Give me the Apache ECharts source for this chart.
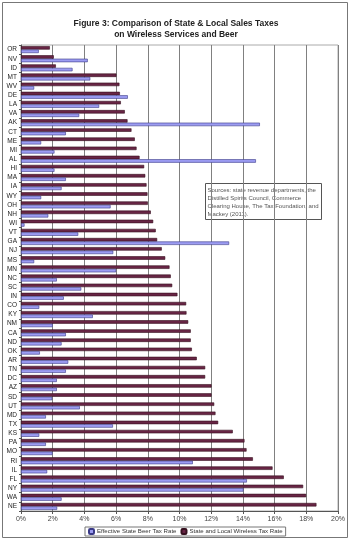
<!DOCTYPE html>
<html>
<head>
<meta charset="utf-8">
<script src="https://cdn.jsdelivr.net/npm/echarts@6/dist/echarts.min.js"></script>
<style>
  html, body { margin: 0; padding: 0; background: #fff; }
  #main { width: 352px; height: 540px; }
</style>
</head>
<body>
<div id="main"></div>
<script>
// states, top to bottom
var states = ['OR','NV','ID','MT','WV','DE','LA','VA','AK','CT','ME','MI','AL','HI','MA','IA','WY','OH','NH','WI','VT',
  'GA','NJ','MS','MN','NC','SC','IN','CO','KY','NM','CA','ND','OK','AR','TN','DC','AZ','SD','UT','MD','TX','KS','PA',
  'MO','RI','IL','FL','NY','WA','NE'];

// state and local wireless tax rate (%)
var wirelessRate = [1.82,2.07,2.2,6.02,6.21,6.24,6.3,6.55,6.72,6.97,7.18,7.29,7.48,7.77,7.84,7.92,7.98,8.0,8.19,8.34,8.5,
  8.59,8.88,9.1,9.37,9.45,9.54,9.87,10.42,10.44,10.55,10.71,10.71,10.78,11.09,11.62,11.62,12.02,12.02,12.19,12.27,12.44,13.36,14.1,
  14.23,14.63,15.87,16.58,17.8,17.99,18.64];

// effective state beer tax rate (%)
var beerRate = [1.12,4.21,3.25,4.37,0.83,6.74,4.93,3.67,15.07,2.83,1.27,2.11,14.82,2.11,2.83,2.56,1.27,5.65,1.72,0.22,3.61,
  13.13,5.82,0.83,6.0,2.26,3.8,2.7,1.15,4.53,2.0,2.83,2.56,1.19,2.98,2.83,2.26,2.26,1.97,3.71,1.57,5.8,1.15,1.57,
  1.99,10.84,1.65,14.25,14.04,2.56,2.28];

var xTicks = [0, 2, 4, 6, 8, 10, 12, 14, 16, 18, 20];

var chart = echarts.init(document.getElementById('main'));
var font = 'Liberation Sans, Arial, sans-serif';

chart.setOption({
  animation: false,
  textStyle: { fontFamily: font },
  title: {
    text: 'Figure 3: Comparison of State & Local Sales Taxes\non Wireless Services and Beer',
    left: 'center',
    top: 13,
    textStyle: { fontSize: 8.5, fontWeight: 'bold', color: '#222', lineHeight: 11, fontFamily: font }
  },
  legend: {
    data: ['Effective State Beer Tax Rate', 'State and Local Wireless Tax Rate'],
    left: 85,
    top: 527,
    itemWidth: 5,
    itemHeight: 5,
    itemGap: 4,
    padding: [1, 3],
    borderColor: '#777',
    borderWidth: 1,
    textStyle: { fontSize: 6.1, color: '#333', padding: [0, 0, 0, -2] }
  },
  grid: {
    left: 21, right: 14, top: 45, bottom: 29,
    show: true, borderColor: '#aaa', borderWidth: 1
  },
  xAxis: {
    type: 'value',
    min: 0, max: 20, interval: 2,
    axisLine: { show: true, lineStyle: { color: '#555' } },
    axisTick: { show: true, length: 3, lineStyle: { color: '#555' } },
    splitLine: { show: true, lineStyle: { color: '#808080', width: 1 } },
    axisLabel: {
      fontSize: 7, color: '#444', margin: 5,
      formatter: function (v) { return xTicks.indexOf(v) >= 0 ? v + '%' : ''; }
    }
  },
  yAxis: {
    type: 'category',
    data: states,
    inverse: true,
    axisLine: { show: true, lineStyle: { color: '#555' } },
    axisTick: { show: true, length: 2, lineStyle: { color: '#555' } },
    axisLabel: { fontSize: 6.5, color: '#222', margin: 4, interval: 0 }
  },
  series: [
    {
      name: 'State and Local Wireless Tax Rate',
      type: 'bar',
      data: wirelessRate,
      barWidth: '38%',
      barGap: '0%',
      itemStyle: { color: '#682545', borderColor: '#36101f', borderWidth: 0.6 }
    },
    {
      name: 'Effective State Beer Tax Rate',
      type: 'bar',
      data: beerRate,
      barWidth: '38%',
      barGap: '0%',
      itemStyle: { color: '#9c9cf2', borderColor: '#3a3a88', borderWidth: 0.6 }
    }
  ],
  graphic: [
    {
      type: 'rect',
      silent: true,
      shape: { x: 2.5, y: 2.5, width: 345, height: 535 },
      style: { fill: 'none', stroke: '#777', lineWidth: 1 }
    },
    {
      type: 'group',
      left: 205,
      top: 183,
      children: [
        {
          type: 'rect',
          shape: { x: 0, y: 0, width: 116, height: 36 },
          style: { fill: '#fff', stroke: '#555', lineWidth: 1 }
        },
        {
          type: 'text',
          left: 2,
          top: 3,
          style: {
            text: 'Sources: state revenue departments, the\nDistilled Spirits Council, Commerce\nClearing House, The Tax Foundation, and\nMackey (2011).',
            fontSize: 6,
            lineHeight: 8,
            fill: '#555',
            fontFamily: font
          }
        }
      ]
    }
  ]
});
</script>
</body>
</html>
